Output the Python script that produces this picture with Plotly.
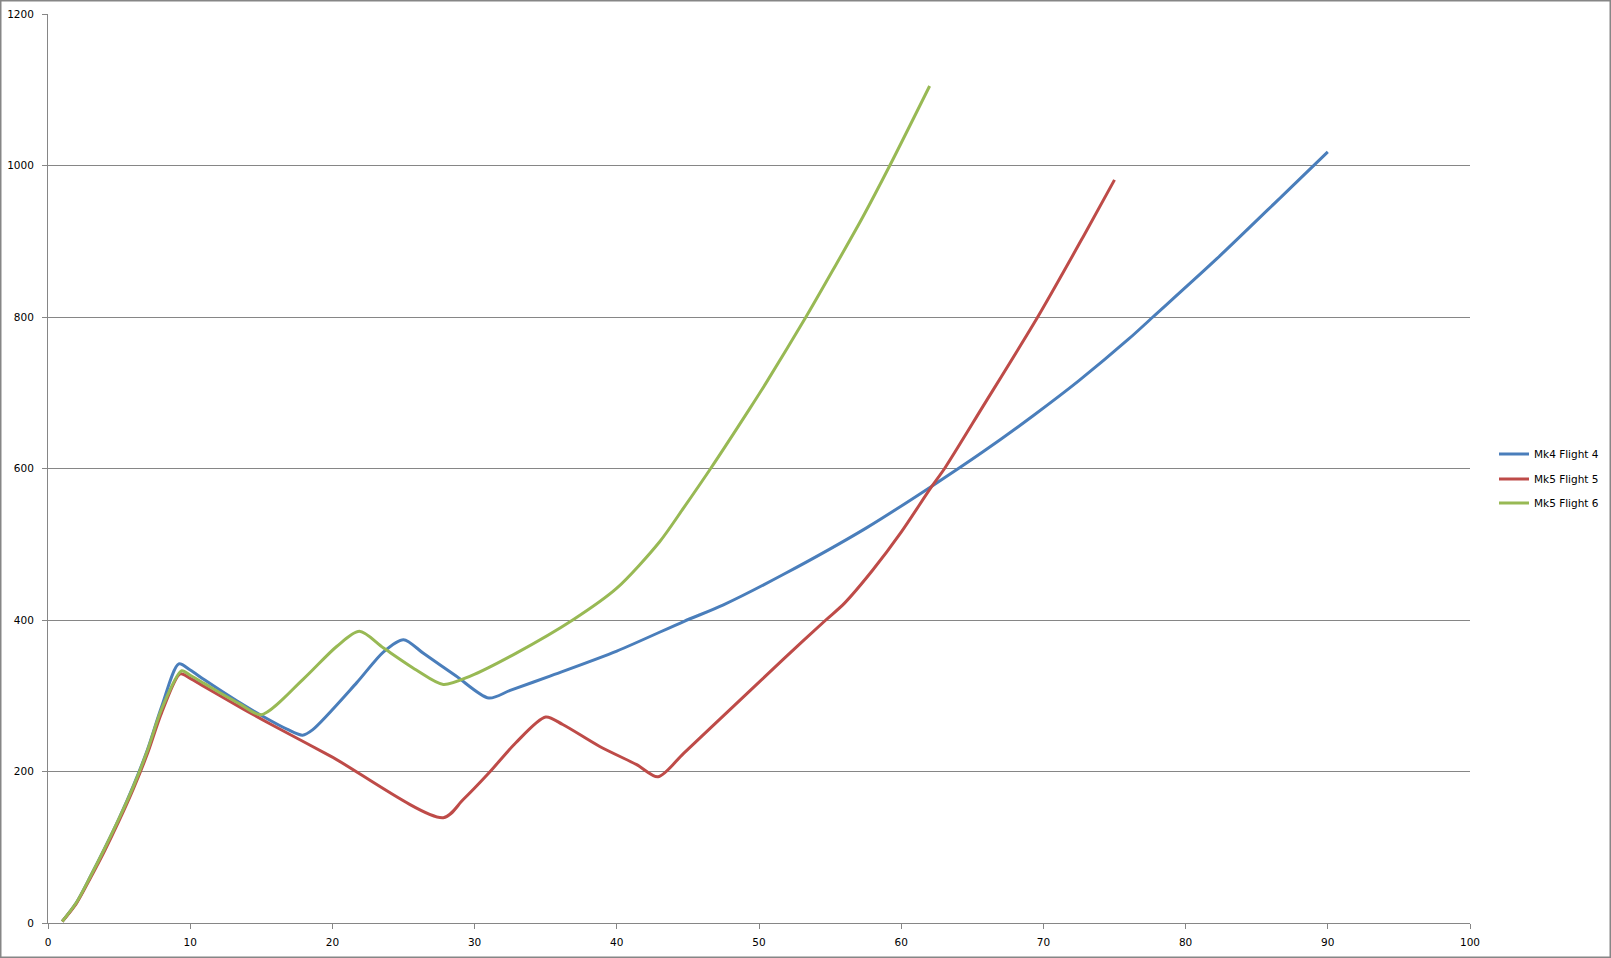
import plotly.graph_objects as go

# Mk4 Flight 4
mk4_f4_x = [1, 2, 3, 4, 5, 6, 7, 8, 9.2, 10, 11, 13.3, 15.1, 16.8, 17.9, 18.6, 21.7, 23.6, 25.0,
            26.4, 28.7, 31.0, 32.5, 35.3, 40.0, 44.7, 47.5, 51.8, 57.5, 62.1, 65.75, 69.3,
            72.5, 76.0, 77.7, 82.2, 86.8, 90]
mk4_f4_y = [2, 27, 62, 99, 138, 181, 229, 286, 342, 334, 321, 293, 273, 256, 248, 255, 317, 358, 374,
            356, 326, 297, 307, 326, 359, 398, 420, 461, 521, 576, 622, 670,
            716, 771, 800, 877, 960, 1018]

# Mk5 Flight 5
mk5_f5_x = [1, 2, 3, 4, 5, 6, 7, 8, 9.3, 10, 11, 13.5, 15.6, 19.9, 27.8, 29.2, 31.0, 32.9,
            35.0, 36.2, 38.8, 41.4, 42.9, 44.7, 48.2, 51.7, 54.7, 56.0, 58.0, 60.0, 62.1, 63.05,
            65.75, 69.6, 72.8, 75]
mk5_f5_y = [2, 26, 60, 96, 135, 177, 224, 278, 329, 323, 312, 285, 263, 220, 139, 163, 198, 238,
            272, 262, 233, 209, 193, 224, 286, 348, 400, 422, 466, 516, 575, 600,
            682, 800, 906, 981]

# Mk5 Flight 6
mk5_f6_x = [1, 2, 3, 4, 5, 6, 7, 8, 9.4, 10, 11, 13.5, 15.0, 17.9, 20.3, 21.9, 23.6, 25.9, 27.8,
            29.7, 32.9, 36.9, 40.0, 43.0, 44.7, 46.6, 49.35, 50.5, 53.3, 55.2, 57.3, 59.2, 62]
mk5_f6_y = [2, 27, 62, 99, 138, 180, 228, 283, 333, 327, 316, 289, 275, 321, 365, 385, 363, 334, 315,
            326, 356, 400, 442, 503, 548, 600, 679, 713, 800, 862, 932, 1000, 1105]

series_names = ["Mk4 Flight 4", "Mk5 Flight 5", "Mk5 Flight 6"]
series_colors = ["#4A7EBB", "#BE4B48", "#98B954"]

x_ticks = [0, 10, 20, 30, 40, 50, 60, 70, 80, 90, 100]
y_ticks = [0, 200, 400, 600, 800, 1000, 1200]

W, H = 1611, 958
ML, MR, MT, MB = 48, 141, 14, 35
pw = W - ML - MR
ph = H - MT - MB

legend_ids = ["legend", "legend2", "legend3"]
legend_rows_px = [454, 479, 503]

fig = go.Figure()
for name, color, xs, ys, lid in zip(series_names, series_colors,
                                    [mk4_f4_x, mk5_f5_x, mk5_f6_x],
                                    [mk4_f4_y, mk5_f5_y, mk5_f6_y], legend_ids):
    fig.add_trace(go.Scatter(x=xs, y=ys, mode="lines", name=name, legend=lid,
                             line=dict(color=color, width=3, shape="spline", smoothing=0.8)))

axis_color = "#868686"
font = dict(family="DejaVu Sans", size=10.5, color="#000000")

legend_common = dict(xanchor="left", yanchor="middle",
                     font=dict(family="DejaVu Sans", size=10.5, color="#000000"),
                     bgcolor="rgba(0,0,0,0)", borderwidth=0, itemwidth=30)
legends = {}
for lid, ypx in zip(legend_ids, legend_rows_px):
    legends[lid] = dict(x=(1494 - ML) / pw, y=1 - (ypx - MT) / ph, **legend_common)

fig.update_layout(
    width=W, height=H,
    margin=dict(l=ML, r=MR, t=MT, b=MB, pad=0, autoexpand=False),
    paper_bgcolor="white", plot_bgcolor="white",
    font=font,
    showlegend=True,
    xaxis=dict(range=[0, 100], tickvals=x_ticks, showgrid=False, zeroline=False,
               showline=True, linecolor=axis_color, linewidth=1, automargin=False,
               ticks="outside", ticklen=5, tickcolor=axis_color, tickwidth=1,
               ticklabelstandoff=4, tickfont=font, fixedrange=True),
    yaxis=dict(range=[0, 1200], tickvals=y_ticks, showgrid=True, gridcolor=axis_color,
               gridwidth=1, zeroline=False, showline=True, linecolor=axis_color, linewidth=1,
               automargin=False,
               ticks="outside", ticklen=5, tickcolor=axis_color, tickwidth=1,
               ticklabelstandoff=6, tickfont=font, fixedrange=True),
    **legends,
)

fig.add_shape(type="rect", xref="paper", yref="paper",
              x0=(0.75 - ML) / pw, x1=(W - 0.75 - ML) / pw,
              y0=1 - (H - 0.75 - MT) / ph, y1=1 + (MT - 0.75) / ph,
              line=dict(color=axis_color, width=1.5), fillcolor="rgba(0,0,0,0)", layer="above")

fig.write_html("out.html",
               config={"displayModeBar": False},
               post_script="document.body.style.margin='0';document.body.style.padding='0';"
                           "document.body.style.overflow='hidden';")
